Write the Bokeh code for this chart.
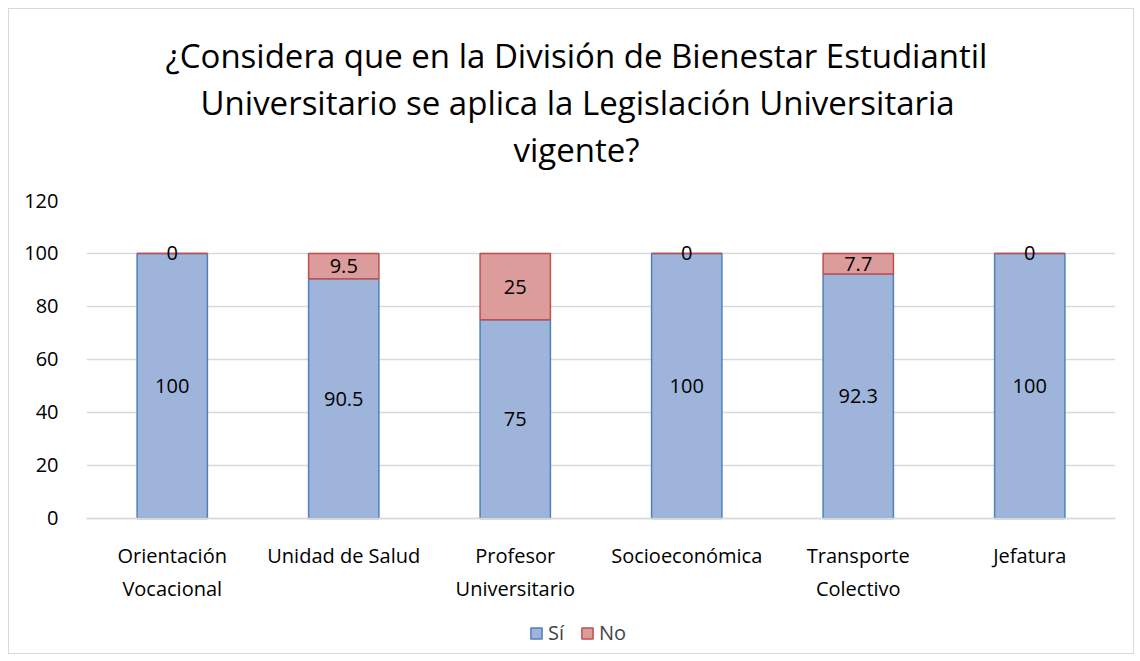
from bokeh.plotting import figure
from bokeh.models import ColumnDataSource, Legend, LegendItem, Range1d, FactorRange, LabelSet, Title
from bokeh.core.properties import value
from bokeh.embed import file_html
from bokeh.resources import INLINE

categories = ["Orientación\nVocacional", "Unidad de Salud", "Profesor\nUniversitario",
              "Socioeconómica", "Transporte\nColectivo", "Jefatura"]
si_values = [100, 90.5, 75, 100, 92.3, 100]
no_values = [0, 9.5, 25, 0, 7.7, 0]
y_ticks = [0, 20, 40, 60, 80, 100, 120]
title_lines = ["¿Considera que en la División de Bienestar Estudiantil",
               "Universitario se aplica la Legislación Universitaria",
               "vigente?"]

FONT = "Open Sans"
BLUE_FILL, BLUE_LINE = "#9fb4da", "#4f81bd"
RED_FILL, RED_LINE = "#dc9c9b", "#c0504d"

src = ColumnDataSource(dict(
    cat=categories,
    si_top=si_values,
    no_top=[a + b for a, b in zip(si_values, no_values)],
    si_mid=[a / 2 for a in si_values],
    no_mid=[a + b / 2 for a, b in zip(si_values, no_values)],
    si_lab=[f"{v:g}" for v in si_values],
    no_lab=[f"{v:g}" for v in no_values],
))

# the frame extends below 0 to hold the category labels and the legend
p = figure(frame_width=1029, frame_height=453, x_range=FactorRange(*categories),
           y_range=Range1d(-51, 120), output_backend="svg", toolbar_location=None,
           min_border_left=77, min_border_right=18, min_border_top=191, min_border_bottom=0)
p.title.visible = False

r_si = p.vbar(x="cat", top="si_top", bottom=0, width=0.41, source=src,
              fill_color=BLUE_FILL, line_color=BLUE_LINE, line_width=1.5)
r_no = p.vbar(x="cat", top="no_top", bottom="si_top", width=0.41, source=src,
              fill_color=RED_FILL, line_color=RED_LINE, line_width=1.5)

for ycol, tcol in (("si_mid", "si_lab"), ("no_mid", "no_lab")):
    p.add_layout(LabelSet(x="cat", y=ycol, text=tcol, source=src,
                          text_align="center", text_baseline="middle",
                          text_font=value(FONT), text_font_size=value("20px"),
                          text_color="#000000"))

# spacer between the frame and the title block
p.add_layout(Title(text=" ", text_font=FONT, text_font_size="20px", standoff=0), "above")
# title lines: added nearest-first so that the first line ends on top
offsets = [427, 114, 79]
for line, off in zip(reversed(title_lines), offsets):
    p.add_layout(Title(text=line, align="left", offset=off,
                       text_font=FONT, text_font_size="33px", text_font_style="normal",
                       text_color="#000000", standoff=0), "above")

p.yaxis.ticker = y_ticks
p.yaxis.axis_line_color = None
p.yaxis.major_tick_line_color = None
p.yaxis.minor_tick_line_color = None
p.yaxis.major_label_text_font = FONT
p.yaxis.major_label_text_font_size = "20px"
p.yaxis.major_label_text_color = "#000000"
p.yaxis.major_label_standoff = 22

p.xaxis.fixed_location = 0
p.xaxis.axis_line_color = "#d9d9d9"
p.xaxis.axis_line_width = 1.5
p.xaxis.major_tick_line_color = None
p.xaxis.minor_tick_line_color = None
p.xaxis.major_label_text_font = FONT
p.xaxis.major_label_text_font_size = "20px"
p.xaxis.major_label_text_color = "#000000"
p.xaxis.major_label_standoff = 18
p.xaxis.major_label_text_line_height = 1.2

p.xgrid.grid_line_color = None
p.ygrid.grid_line_color = "#d9d9d9"
p.ygrid.grid_line_width = 1.5
p.outline_line_color = None
p.x_range.range_padding = 0
p.x_range.group_padding = 0
p.x_range.factor_padding = 0

legend = Legend(items=[LegendItem(label="Sí", renderers=[r_si]),
                       LegendItem(label="No", renderers=[r_no])],
                orientation="horizontal", location=(443, 7),
                label_text_font=FONT, label_text_font_size="20px",
                label_standoff=5, glyph_width=14, glyph_height=14, spacing=12,
                border_line_color=None, background_fill_alpha=0, margin=0, padding=4)
p.add_layout(legend, "center")
p.styles = {"border": "1px solid #d9d9d9", "margin-left": "8px", "margin-top": "8px"}

open("out.html", "w").write(file_html(p, INLINE))
